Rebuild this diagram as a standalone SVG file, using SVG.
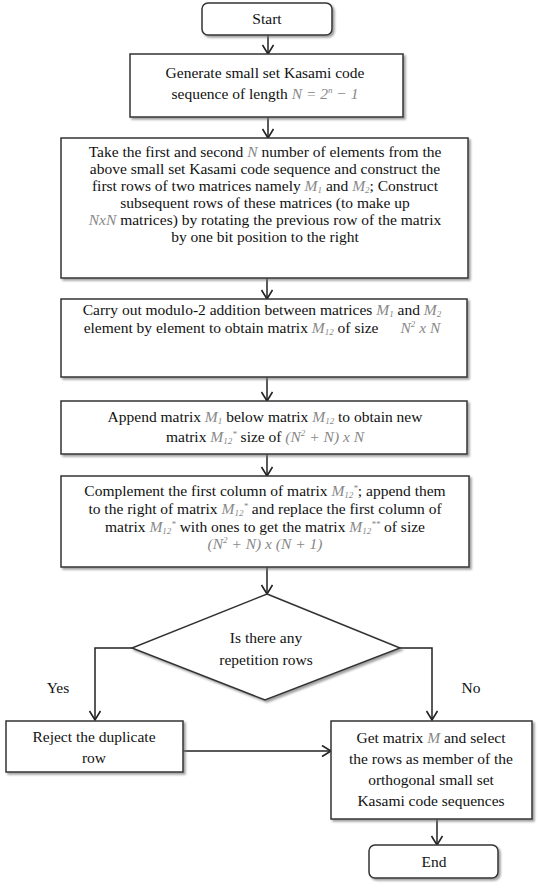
<svg xmlns="http://www.w3.org/2000/svg" width="538" height="888" viewBox="0 0 538 888" font-family="'Liberation Serif', 'DejaVu Serif', serif">
<style>
  text { font-family: "Liberation Serif", "DejaVu Serif", serif; font-size: 15.5px; fill: #111; text-anchor: middle; }
  .box { fill: #fff; stroke: #333; stroke-width: 1.5; filter: url(#sh); }
  .m { font-style: italic; fill: #888; }
  .s { font-size: 9px; font-style: italic; fill: #888; }
  .c { fill: none; stroke: #222; stroke-width: 1.5; marker-end: url(#ah); }
</style>
<defs>
  <filter id="sh" x="-5%" y="-10%" width="115%" height="130%">
    <feDropShadow dx="2" dy="2" stdDeviation="1.2" flood-color="#777" flood-opacity="0.7"/>
  </filter>
  <marker id="ah" markerUnits="userSpaceOnUse" markerWidth="12" markerHeight="14" refX="10" refY="6" orient="auto">
    <path d="M1,0.5 L10,6 L1,11.5" fill="none" stroke="#222" stroke-width="1.6"/>
  </marker>
</defs>

<g id="connectors">
  <path class="c" d="M268,35 V54"/>
  <path class="c" d="M268,117 V138"/>
  <path class="c" d="M267,278 V299"/>
  <path class="c" d="M267,377 V401"/>
  <path class="c" d="M267,454 V476"/>
  <path class="c" d="M267,567 V594"/>
  <path class="c" d="M132,648 H95 V720"/>
  <path class="c" d="M400,648 H432 V720"/>
  <path class="c" d="M183,751 H331"/>
  <path class="c" d="M437,819 V845"/>
  <text x="58" y="693">Yes</text>
  <text x="471" y="693">No</text>
</g>

<g id="start">
  <rect class="box" x="202" y="3" width="130" height="32" rx="6"/>
  <text x="267" y="24">Start</text>
</g>

<g id="generate">
  <rect class="box" x="130" y="54" width="273" height="63"/>
  <text x="265" y="78">Generate small set Kasami  code</text>
  <text x="265" y="99">sequence of length <tspan class="m">N</tspan><tspan class="m"> = 2</tspan><tspan class="s" dy="-6">n</tspan><tspan class="m" dy="6"> − 1</tspan></text>
</g>

<g id="construct">
  <rect class="box" x="61" y="138" width="407" height="140"/>
  <text x="265" y="157">Take the first and second  <tspan class="m">N</tspan> number of elements from the</text>
  <text x="265" y="174">above small set Kasami code sequence and construct the</text>
  <text x="265" y="191">first rows of two matrices namely <tspan class="m">M</tspan><tspan class="s" dy="2">1</tspan><tspan dy="-2"> and </tspan><tspan class="m">M</tspan><tspan class="s" dy="2">2</tspan><tspan dy="-2">; Construct</tspan></text>
  <text x="265" y="208">subsequent rows of these matrices (to make up</text>
  <text x="265" y="225"><tspan class="m">NxN</tspan> matrices) by rotating the previous row of the matrix</text>
  <text x="265" y="242">by one bit position to the right</text>
</g>

<g id="modulo">
  <rect class="box" x="61" y="299" width="406" height="78"/>
  <text x="262" y="315">Carry out modulo-2 addition between matrices <tspan class="m">M</tspan><tspan class="s" dy="2">1</tspan><tspan dy="-2"> and </tspan><tspan class="m">M</tspan><tspan class="s" dy="2">2</tspan></text>
  <text x="262" y="333">element by element to obtain matrix <tspan class="m">M</tspan><tspan class="s" dy="2">12</tspan><tspan dy="-2"> of size</tspan><tspan class="m" dx="22">N</tspan><tspan class="s" dy="-6">2</tspan><tspan class="m" dy="6"> x N</tspan></text>
</g>

<g id="append">
  <rect class="box" x="61" y="401" width="406" height="53"/>
  <text x="265" y="422">Append matrix <tspan class="m">M</tspan><tspan class="s" dy="2">1</tspan><tspan dy="-2">  below matrix </tspan><tspan class="m">M</tspan><tspan class="s" dy="2">12</tspan><tspan dy="-2"> to obtain new</tspan></text>
  <text x="265" y="442">matrix <tspan class="m">M</tspan><tspan class="s" dy="2">12</tspan><tspan class="s" dy="-7">*</tspan><tspan dy="5"> size of </tspan><tspan class="m">(N</tspan><tspan class="s" dy="-6">2</tspan><tspan class="m" dy="6"> + N) x N</tspan></text>
</g>

<g id="complement">
  <rect class="box" x="61" y="476" width="408" height="91"/>
  <text x="265" y="496">Complement the first column of matrix <tspan class="m">M</tspan><tspan class="s" dy="2">12</tspan><tspan class="s" dy="-7">*</tspan><tspan dy="5">; append them</tspan></text>
  <text x="265" y="514">to the right of matrix <tspan class="m">M</tspan><tspan class="s" dy="2">12</tspan><tspan class="s" dy="-7">*</tspan><tspan dy="5"> and replace  the first column of</tspan></text>
  <text x="265" y="532">matrix <tspan class="m">M</tspan><tspan class="s" dy="2">12</tspan><tspan class="s" dy="-7">*</tspan><tspan dy="5"> with ones to get the matrix </tspan><tspan class="m">M</tspan><tspan class="s" dy="2">12</tspan><tspan class="s" dy="-7">**</tspan><tspan dy="5"> of size</tspan></text>
  <text x="265" y="549"><tspan class="m">(N</tspan><tspan class="s" dy="-6">2</tspan><tspan class="m" dy="6"> +  N) x (N + 1)</tspan></text>
</g>

<g id="decision">
  <polygon class="box" points="267,594 400,648 265,700 132,648"/>
  <text x="266" y="643">Is there any</text>
  <text x="266" y="665">repetition rows</text>
</g>

<g id="reject">
  <rect class="box" x="6" y="721" width="177" height="51"/>
  <text x="94" y="742">Reject the duplicate</text>
  <text x="94" y="763">row</text>
</g>

<g id="getmatrix">
  <rect class="box" x="331" y="721" width="201" height="98"/>
  <text x="431" y="743">Get matrix <tspan class="m">M</tspan> and select</text>
  <text x="431" y="764">the rows as member of the</text>
  <text x="431" y="785">orthogonal small set</text>
  <text x="431" y="806">Kasami code sequences</text>
</g>

<g id="end">
  <rect class="box" x="369" y="845" width="129" height="33" rx="6"/>
  <text x="434" y="867">End</text>
</g>
</svg>
